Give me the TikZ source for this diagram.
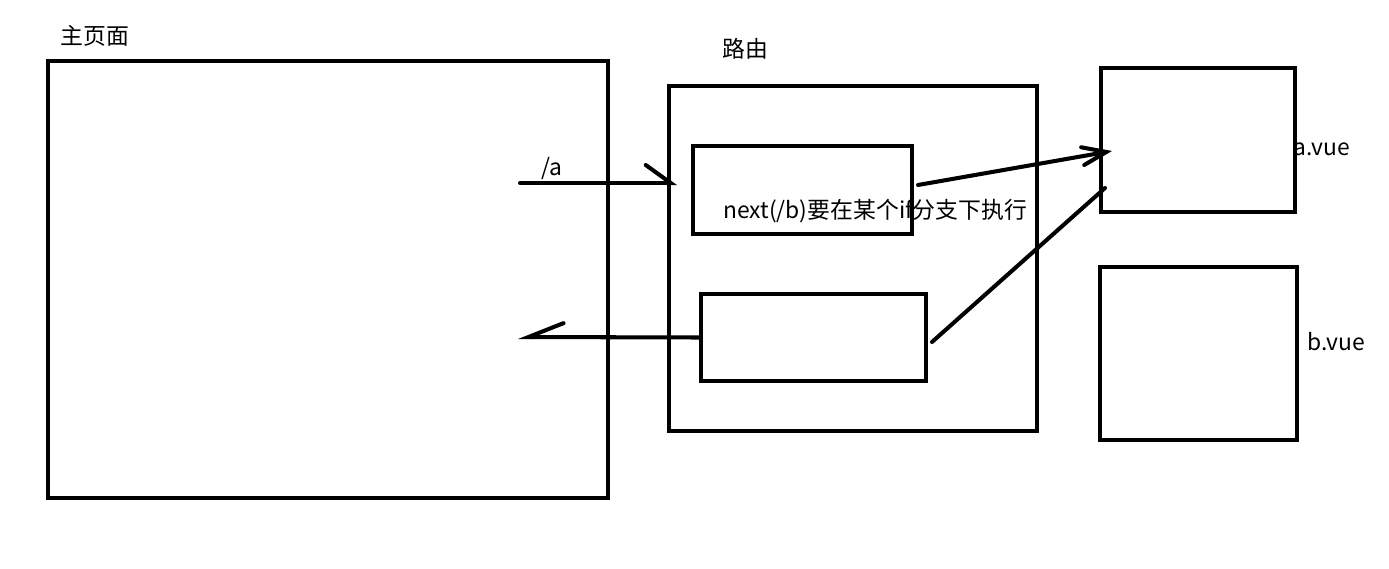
\documentclass[tikz,border=0pt]{standalone}
\usepackage{fontspec}
\newfontfamily\cjk{Noto Sans CJK SC}
\usetikzlibrary{arrows.meta,calc,positioning}
\tikzset{
	thick,
	box/.style ={rectangle, draw, line width=2.3pt, inner sep=0pt},
	lbl/.style = {inner sep=0pt, anchor=west, font=\cjk\fontsize{13pt}{15pt}\selectfont},
	stroke/.style = {line width=2.3pt, line cap=round},
	halfright/.style = {-{Straight Barb[harpoon, length=0.5cm, width=0.72cm, line cap=round]}},
	halfleft/.style = {-{Straight Barb[harpoon, swap, length=0.7cm, width=0.56cm, line cap=round]}},
	fullbarb/.style = {-{Straight Barb[length=0.48cm, width=0.36cm, line cap=round]}},
}

\begin{document}
\begin{tikzpicture}
    \useasboundingbox (0,0) rectangle (27.78,-11.38);
    % main page and router
    \node[box, minimum width=11.2cm, minimum height=8.74cm] (main) at (6.56,-5.59) {};
    \node[lbl] (mainlbl) at (1.20,-0.72) {主页面};
    \node[box, minimum width=7.36cm, minimum height=6.9cm] (router) at (17.06,-5.17) {};
    \node[lbl] (routerlbl) at (14.44,-0.98) {路由};
    \node[lbl] (nextlbl) at (14.46,-4.22) {next(/b)要在某个if分支下执行};
    \node[box, minimum width=4.38cm, minimum height=1.76cm] (guard1) at (16.05,-3.80) {};
    \node[box, minimum width=4.5cm, minimum height=1.74cm] (guard2) at (16.27,-6.75) {};
    % components
    \node[box, minimum width=3.88cm, minimum height=2.88cm] (avue) at (23.96,-2.80) {};
    \node[lbl] (avuelbl) at (25.86,-2.98) {a.vue};
    \node[box, minimum width=3.94cm, minimum height=3.46cm] (bvue) at (23.97,-7.07) {};
    \node[lbl] (bvuelbl) at (26.14,-6.84) {b.vue};
    \coordinate (afrom) at (10.40,-3.66);
    \coordinate (ato) at (13.54,-3.66);
    \coordinate (backto) at (10.36,-6.74);
    \coordinate (g1out) at (18.36,-3.70);
    \coordinate (ain) at (22.24,-3.02);
    \coordinate (g2out) at (18.64,-6.84);
    \coordinate (ain2) at (22.10,-3.76);
    \node[lbl, anchor=center] (alabel) at (11.04,-3.36) {/a};
    \draw[stroke, halfright] (afrom) -- (ato);
    \draw[stroke, halfleft] (guard2.west) -- (backto);
    \draw[stroke, fullbarb] (g1out) -- (ain);
    \draw[stroke] (g2out) -- (ain2);
\end{tikzpicture}
\end{document}
